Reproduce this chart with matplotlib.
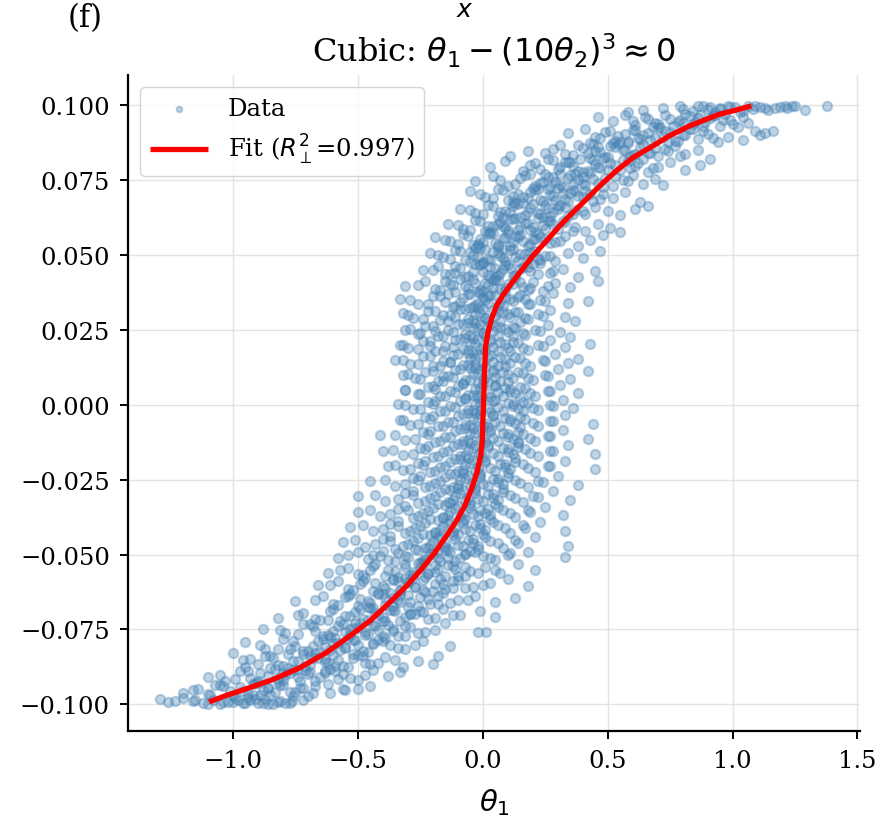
import matplotlib
matplotlib.use("Agg")
import matplotlib.pyplot as plt

# Scatter points, one row per theta2 band (top to bottom)
theta1_rows = [
    [0.58, 0.64, 0.72, 0.79, 0.84, 0.88, 0.91, 0.95, 0.98, 1.01, 1.03, 1.06, 1.08, 1.11, 1.14, 1.17, 1.21, 1.22, 1.24, 1.29, 1.38, 0.97, 0.93],
    [0.46, 0.52, 0.57, 0.61, 0.66, 0.69, 0.73, 0.76, 0.79, 0.81, 0.84, 0.86, 0.89, 0.92, 0.95, 0.99, 1.02, 1.06, 1.09, 1.13, 1.16, 0.71, 0.87, 0.78],
    [0.34, 0.41, 0.47, 0.51, 0.54, 0.58, 0.61, 0.64, 0.67, 0.70, 0.72, 0.75, 0.78, 0.81, 0.83, 0.86, 0.90, 0.94, 0.98, 1.04, 1.11, 0.62, 0.74, 0.88],
    [0.11, 0.18, 0.25, 0.31, 0.36, 0.40, 0.44, 0.47, 0.50, 0.53, 0.56, 0.58, 0.61, 0.64, 0.67, 0.70, 0.73, 0.77, 0.81, 0.86, 0.91, 0.52, 0.59, 0.45],
    [0.03, 0.09, 0.16, 0.21, 0.26, 0.30, 0.33, 0.36, 0.39, 0.42, 0.45, 0.48, 0.50, 0.53, 0.56, 0.59, 0.62, 0.66, 0.70, 0.75, 0.81, 0.87, 0.38, 0.44],
    [-0.03, 0.04, 0.10, 0.15, 0.19, 0.23, 0.26, 0.29, 0.32, 0.35, 0.38, 0.41, 0.43, 0.46, 0.49, 0.52, 0.56, 0.60, 0.64, 0.69, 0.72, 0.31, 0.27, 0.40],
    [-0.05, 0.01, 0.06, 0.10, 0.14, 0.18, 0.21, 0.24, 0.27, 0.30, 0.33, 0.35, 0.38, 0.41, 0.44, 0.48, 0.52, 0.57, 0.63, 0.66, 0.22, 0.29, 0.12, 0.36],
    [-0.09, -0.03, 0.02, 0.06, 0.09, 0.12, 0.15, 0.18, 0.20, 0.23, 0.26, 0.28, 0.31, 0.34, 0.37, 0.41, 0.45, 0.50, 0.55, 0.61, 0.16, 0.24, 0.07, 0.30],
    [-0.14, -0.08, -0.03, 0.01, 0.04, 0.07, 0.10, 0.13, 0.15, 0.18, 0.21, 0.24, 0.27, 0.30, 0.33, 0.37, 0.41, 0.46, 0.51, 0.55, 0.11, 0.19, 0.02, 0.26],
    [-0.19, -0.13, -0.08, -0.04, -0.01, 0.02, 0.05, 0.08, 0.11, 0.13, 0.16, 0.19, 0.22, 0.25, 0.29, 0.33, 0.38, 0.43, 0.48, 0.06, 0.14, -0.02, 0.21, 0.10],
    [-0.21, -0.16, -0.11, -0.07, -0.04, -0.01, 0.02, 0.04, 0.07, 0.09, 0.12, 0.15, 0.18, 0.21, 0.25, 0.29, 0.34, 0.40, 0.47, 0.00, 0.08, 0.13, -0.05, 0.23],
    [-0.24, -0.18, -0.13, -0.09, -0.06, -0.03, 0.00, 0.03, 0.05, 0.08, 0.10, 0.13, 0.16, 0.19, 0.23, 0.27, 0.32, 0.38, 0.45, -0.01, 0.06, 0.11, -0.11, 0.20],
    [-0.31, -0.23, -0.17, -0.13, -0.09, -0.06, -0.03, 0.00, 0.02, 0.05, 0.07, 0.10, 0.13, 0.16, 0.20, 0.24, 0.29, 0.35, 0.46, -0.02, 0.04, 0.09, -0.12, 0.18],
    [-0.33, -0.26, -0.20, -0.15, -0.11, -0.08, -0.05, -0.02, 0.01, 0.03, 0.06, 0.09, 0.12, 0.15, 0.19, 0.23, 0.28, 0.34, 0.42, -0.04, 0.02, 0.07, -0.14, 0.17],
    [-0.32, -0.28, -0.22, -0.17, -0.13, -0.09, -0.06, -0.03, 0.00, 0.02, 0.05, 0.08, 0.11, 0.14, 0.18, 0.22, 0.27, 0.33, 0.37, -0.05, 0.01, 0.06, -0.16, 0.15],
    [-0.29, -0.25, -0.23, -0.18, -0.14, -0.10, -0.07, -0.04, -0.01, 0.01, 0.04, 0.07, 0.10, 0.13, 0.17, 0.21, 0.26, 0.31, 0.35, -0.06, 0.00, 0.05, -0.19, 0.12],
    [-0.33, -0.30, -0.24, -0.19, -0.15, -0.11, -0.08, -0.05, -0.02, 0.01, 0.04, 0.07, 0.10, 0.14, 0.18, 0.22, 0.27, 0.33, 0.43, -0.07, -0.01, 0.03, -0.21, 0.11],
    [-0.35, -0.29, -0.24, -0.20, -0.16, -0.12, -0.08, -0.05, -0.02, 0.01, 0.04, 0.07, 0.11, 0.15, 0.19, 0.24, 0.29, 0.34, 0.38, -0.06, -0.03, 0.02, -0.13, 0.09],
    [-0.30, -0.27, -0.23, -0.18, -0.14, -0.11, -0.07, -0.04, -0.01, 0.02, 0.05, 0.08, 0.12, 0.16, 0.20, 0.25, 0.30, 0.35, 0.42, -0.05, 0.00, 0.04, -0.16, 0.10],
    [-0.31, -0.26, -0.22, -0.17, -0.13, -0.10, -0.06, -0.03, 0.00, 0.03, 0.06, 0.09, 0.13, 0.17, 0.21, 0.26, 0.31, 0.38, -0.08, -0.02, 0.05, 0.11, -0.19, 0.15],
    [-0.34, -0.28, -0.22, -0.17, -0.13, -0.09, -0.06, -0.03, 0.00, 0.03, 0.06, 0.10, 0.14, 0.18, 0.22, 0.27, 0.32, 0.36, -0.07, -0.01, 0.04, 0.12, -0.20, 0.16],
    [-0.33, -0.29, -0.23, -0.18, -0.14, -0.10, -0.07, -0.04, -0.01, 0.02, 0.05, 0.09, 0.13, 0.17, 0.22, 0.27, 0.33, 0.44, -0.06, 0.00, 0.04, 0.11, -0.21, 0.15],
    [-0.41, -0.31, -0.24, -0.19, -0.15, -0.11, -0.08, -0.05, -0.02, 0.01, 0.04, 0.08, 0.12, 0.16, 0.21, 0.26, 0.32, 0.42, -0.07, -0.01, 0.03, 0.10, -0.22, 0.14],
    [-0.40, -0.32, -0.25, -0.20, -0.16, -0.12, -0.09, -0.06, -0.03, 0.00, 0.04, 0.08, 0.12, 0.17, 0.22, 0.28, 0.34, 0.45, -0.08, -0.02, 0.02, 0.10, -0.23, 0.14],
    [-0.38, -0.32, -0.26, -0.21, -0.17, -0.13, -0.10, -0.07, -0.04, -0.01, 0.03, 0.07, 0.11, 0.16, 0.21, 0.27, 0.33, 0.45, -0.09, -0.03, 0.01, 0.09, -0.24, 0.13],
    [-0.45, -0.35, -0.28, -0.23, -0.19, -0.15, -0.12, -0.09, -0.06, -0.03, 0.00, 0.04, 0.08, 0.13, 0.18, 0.24, 0.30, 0.38, -0.11, -0.05, -0.01, 0.06, -0.26, 0.10],
    [-0.50, -0.39, -0.31, -0.26, -0.21, -0.17, -0.14, -0.11, -0.08, -0.05, -0.02, 0.02, 0.06, 0.11, 0.16, 0.22, 0.28, 0.35, -0.13, -0.07, -0.03, 0.04, -0.28, 0.08],
    [-0.50, -0.41, -0.34, -0.28, -0.24, -0.20, -0.16, -0.13, -0.10, -0.07, -0.04, -0.01, 0.03, 0.08, 0.13, 0.19, 0.25, 0.32, -0.15, -0.09, -0.05, 0.01, -0.30, 0.05],
    [-0.53, -0.44, -0.37, -0.31, -0.27, -0.23, -0.19, -0.16, -0.13, -0.10, -0.07, -0.03, 0.01, 0.06, 0.11, 0.17, 0.23, 0.33, -0.18, -0.12, -0.08, -0.01, -0.34, 0.03],
    [-0.56, -0.47, -0.40, -0.35, -0.30, -0.26, -0.23, -0.20, -0.17, -0.14, -0.10, -0.06, -0.02, 0.03, 0.08, 0.14, 0.21, 0.34, -0.21, -0.15, -0.11, -0.04, -0.37, 0.00],
    [-0.58, -0.50, -0.44, -0.38, -0.34, -0.30, -0.26, -0.23, -0.20, -0.17, -0.13, -0.09, -0.05, 0.00, 0.05, 0.11, 0.18, 0.33, -0.24, -0.18, -0.14, -0.07, -0.41, -0.02],
    [-0.62, -0.54, -0.48, -0.43, -0.38, -0.34, -0.31, -0.28, -0.25, -0.22, -0.18, -0.14, -0.10, -0.05, 0.01, 0.07, 0.14, 0.21, -0.29, -0.23, -0.19, -0.12, -0.45, -0.07],
    [-0.66, -0.58, -0.52, -0.47, -0.43, -0.39, -0.36, -0.33, -0.30, -0.27, -0.23, -0.19, -0.15, -0.10, -0.04, 0.03, 0.10, 0.18, -0.34, -0.28, -0.24, -0.17, -0.49, -0.12],
    [-0.75, -0.64, -0.58, -0.53, -0.49, -0.45, -0.42, -0.39, -0.36, -0.33, -0.29, -0.25, -0.21, -0.16, -0.10, -0.03, 0.05, 0.13, -0.40, -0.34, -0.30, -0.23, -0.55, -0.18],
    [-0.82, -0.72, -0.65, -0.60, -0.55, -0.51, -0.48, -0.45, -0.42, -0.39, -0.35, -0.31, -0.27, -0.22, -0.16, -0.09, -0.01, 0.05, -0.46, -0.40, -0.36, -0.29, -0.62, -0.24],
    [-0.88, -0.79, -0.72, -0.67, -0.62, -0.58, -0.55, -0.52, -0.49, -0.46, -0.42, -0.38, -0.34, -0.29, -0.23, -0.15, -0.02, 0.015, -0.53, -0.47, -0.43, -0.36, -0.69, -0.31],
    [-0.95, -0.87, -0.80, -0.75, -0.70, -0.66, -0.63, -0.60, -0.57, -0.54, -0.50, -0.46, -0.42, -0.37, -0.31, -0.24, -0.18, -0.13, -0.61, -0.55, -0.51, -0.44, -0.77, -0.39],
    [-1.00, -0.93, -0.87, -0.82, -0.78, -0.74, -0.71, -0.68, -0.65, -0.62, -0.58, -0.54, -0.50, -0.45, -0.39, -0.33, -0.26, -0.20, -0.69, -0.63, -0.59, -0.52, -0.84, -0.47],
    [-1.10, -1.03, -0.97, -0.93, -0.89, -0.85, -0.82, -0.79, -0.76, -0.73, -0.69, -0.65, -0.61, -0.56, -0.50, -0.44, -0.38, -0.32, -0.80, -0.74, -0.70, -0.63, -0.95, -0.58],
    [-1.20, -1.14, -1.09, -1.05, -1.01, -0.97, -0.94, -0.91, -0.88, -0.85, -0.81, -0.77, -0.73, -0.68, -0.62, -0.56, -0.50, -0.45, -0.92, -0.86, -0.82, -0.75, -1.07, -0.70],
    [-1.29, -1.26, -1.20, -1.16, -1.12, -1.08, -1.05, -1.02, -0.99, -0.96, -0.93, -0.90, -0.87, -0.84, -0.81, -0.77, -0.765, -0.72, -1.00, -0.94, -0.88],
]

theta2_rows = [
    [0.0978, 0.0985, 0.0990, 0.0996, 0.0981, 0.0999, 0.0993, 0.0987, 0.0998, 0.0994, 0.0976, 0.0999, 0.0989, 0.0995, 0.0983, 0.0992, 0.0997, 0.0991, 0.0996, 0.0985, 0.0998, 0.0972, 0.0979],
    [0.0962, 0.0948, 0.0969, 0.0934, 0.0955, 0.0941, 0.0966, 0.0929, 0.0952, 0.0970, 0.0937, 0.0958, 0.0944, 0.0963, 0.0931, 0.0949, 0.0927, 0.0940, 0.0915, 0.0908, 0.0914, 0.0926, 0.0968, 0.0945],
    [0.0908, 0.0921, 0.0889, 0.0913, 0.0897, 0.0879, 0.0917, 0.0902, 0.0885, 0.0923, 0.0893, 0.0910, 0.0881, 0.0899, 0.0919, 0.0887, 0.0905, 0.0876, 0.0894, 0.0884, 0.0899, 0.0890, 0.0877, 0.0915],
    [0.0829, 0.0848, 0.0839, 0.0868, 0.0833, 0.0857, 0.0872, 0.0845, 0.0827, 0.0861, 0.0851, 0.0874, 0.0836, 0.0866, 0.0842, 0.0829, 0.0855, 0.0864, 0.0838, 0.0850, 0.0821, 0.0873, 0.0831, 0.0847],
    [0.0793, 0.0814, 0.0781, 0.0806, 0.0822, 0.0788, 0.0810, 0.0797, 0.0819, 0.0779, 0.0803, 0.0824, 0.0785, 0.0801, 0.0817, 0.0790, 0.0808, 0.0776, 0.0795, 0.0812, 0.0784, 0.0799, 0.0780, 0.0816],
    [0.0747, 0.0763, 0.0731, 0.0756, 0.0770, 0.0739, 0.0759, 0.0744, 0.0727, 0.0766, 0.0752, 0.0735, 0.0773, 0.0741, 0.0758, 0.0729, 0.0749, 0.0767, 0.0738, 0.0755, 0.0733, 0.0772, 0.0726, 0.0761],
    [0.0712, 0.0694, 0.0719, 0.0683, 0.0705, 0.0691, 0.0716, 0.0679, 0.0701, 0.0723, 0.0688, 0.0708, 0.0697, 0.0714, 0.0681, 0.0703, 0.0690, 0.0710, 0.0676, 0.0664, 0.0721, 0.0685, 0.0698, 0.0717],
    [0.0654, 0.0639, 0.0668, 0.0631, 0.0648, 0.0662, 0.0627, 0.0645, 0.0671, 0.0636, 0.0658, 0.0642, 0.0666, 0.0629, 0.0651, 0.0637, 0.0660, 0.0646, 0.0633, 0.0652, 0.0674, 0.0626, 0.0643, 0.0665],
    [0.0603, 0.0588, 0.0617, 0.0579, 0.0596, 0.0611, 0.0584, 0.0622, 0.0593, 0.0607, 0.0576, 0.0600, 0.0615, 0.0586, 0.0609, 0.0595, 0.0581, 0.0605, 0.0590, 0.0578, 0.0619, 0.0582, 0.0598, 0.0613],
    [0.0561, 0.0546, 0.0569, 0.0533, 0.0552, 0.0574, 0.0540, 0.0557, 0.0529, 0.0565, 0.0548, 0.0536, 0.0571, 0.0555, 0.0543, 0.0562, 0.0531, 0.0550, 0.0567, 0.0527, 0.0559, 0.0538, 0.0553, 0.0572],
    [0.0508, 0.0492, 0.0517, 0.0484, 0.0501, 0.0523, 0.0488, 0.0511, 0.0496, 0.0480, 0.0519, 0.0503, 0.0486, 0.0514, 0.0498, 0.0479, 0.0506, 0.0490, 0.0512, 0.0477, 0.0521, 0.0494, 0.0509, 0.0483],
    [0.0449, 0.0463, 0.0437, 0.0456, 0.0430, 0.0470, 0.0442, 0.0459, 0.0427, 0.0452, 0.0467, 0.0434, 0.0461, 0.0445, 0.0473, 0.0439, 0.0454, 0.0428, 0.0446, 0.0465, 0.0432, 0.0458, 0.0441, 0.0469],
    [0.0396, 0.0413, 0.0384, 0.0404, 0.0421, 0.0389, 0.0408, 0.0379, 0.0399, 0.0416, 0.0386, 0.0402, 0.0423, 0.0392, 0.0410, 0.0381, 0.0406, 0.0394, 0.0412, 0.0376, 0.0418, 0.0391, 0.0400, 0.0383],
    [0.0354, 0.0337, 0.0362, 0.0344, 0.0329, 0.0357, 0.0371, 0.0340, 0.0350, 0.0366, 0.0332, 0.0359, 0.0345, 0.0368, 0.0335, 0.0351, 0.0373, 0.0339, 0.0348, 0.0327, 0.0363, 0.0342, 0.0370, 0.0353],
    [0.0306, 0.0290, 0.0314, 0.0283, 0.0300, 0.0319, 0.0287, 0.0304, 0.0321, 0.0279, 0.0297, 0.0311, 0.0292, 0.0308, 0.0285, 0.0302, 0.0316, 0.0294, 0.0281, 0.0323, 0.0289, 0.0312, 0.0298, 0.0276],
    [0.0253, 0.0239, 0.0264, 0.0231, 0.0249, 0.0268, 0.0236, 0.0256, 0.0271, 0.0228, 0.0245, 0.0260, 0.0242, 0.0257, 0.0234, 0.0251, 0.0266, 0.0244, 0.0227, 0.0273, 0.0238, 0.0262, 0.0247, 0.0230],
    [0.0201, 0.0188, 0.0213, 0.0180, 0.0196, 0.0217, 0.0185, 0.0205, 0.0221, 0.0178, 0.0193, 0.0209, 0.0190, 0.0207, 0.0183, 0.0199, 0.0215, 0.0192, 0.0204, 0.0223, 0.0187, 0.0211, 0.0195, 0.0179],
    [0.0151, 0.0137, 0.0162, 0.0129, 0.0146, 0.0166, 0.0133, 0.0155, 0.0171, 0.0127, 0.0143, 0.0159, 0.0140, 0.0157, 0.0131, 0.0149, 0.0168, 0.0139, 0.0153, 0.0173, 0.0136, 0.0161, 0.0144, 0.0128],
    [0.0102, 0.0088, 0.0111, 0.0079, 0.0096, 0.0115, 0.0083, 0.0104, 0.0120, 0.0077, 0.0093, 0.0108, 0.0090, 0.0106, 0.0081, 0.0099, 0.0118, 0.0086, 0.0113, 0.0123, 0.0085, 0.0109, 0.0095, 0.0076],
    [0.0049, 0.0035, 0.0060, 0.0028, 0.0045, 0.0064, 0.0032, 0.0053, 0.0070, 0.0026, 0.0041, 0.0057, 0.0038, 0.0055, 0.0030, 0.0047, 0.0066, 0.0039, 0.0072, 0.0034, 0.0061, 0.0043, 0.0051, 0.0027],
    [0.0002, -0.0014, 0.0009, -0.0021, -0.0005, 0.0014, -0.0018, 0.0004, 0.0020, -0.0024, -0.0008, 0.0007, -0.0011, 0.0005, -0.0019, -0.0001, 0.0017, -0.0012, 0.0023, -0.0016, 0.0011, -0.0003, 0.0001, -0.0022],
    [-0.0051, -0.0066, -0.0041, -0.0072, -0.0056, -0.0037, -0.0069, -0.0048, -0.0031, -0.0074, -0.0059, -0.0044, -0.0062, -0.0046, -0.0070, -0.0053, -0.0034, -0.0063, -0.0028, -0.0067, -0.0039, -0.0055, -0.0047, -0.0073],
    [-0.0102, -0.0117, -0.0092, -0.0123, -0.0107, -0.0088, -0.0120, -0.0099, -0.0082, -0.0125, -0.0110, -0.0095, -0.0113, -0.0097, -0.0121, -0.0104, -0.0085, -0.0114, -0.0079, -0.0118, -0.0090, -0.0106, -0.0098, -0.0124],
    [-0.0153, -0.0168, -0.0143, -0.0174, -0.0158, -0.0139, -0.0171, -0.0150, -0.0133, -0.0176, -0.0161, -0.0146, -0.0164, -0.0148, -0.0172, -0.0155, -0.0136, -0.0165, -0.0130, -0.0169, -0.0141, -0.0157, -0.0149, -0.0127],
    [-0.0204, -0.0219, -0.0194, -0.0225, -0.0209, -0.0190, -0.0222, -0.0201, -0.0184, -0.0227, -0.0212, -0.0197, -0.0215, -0.0199, -0.0223, -0.0206, -0.0187, -0.0216, -0.0181, -0.0220, -0.0192, -0.0208, -0.0200, -0.0178],
    [-0.0255, -0.0270, -0.0245, -0.0276, -0.0260, -0.0241, -0.0273, -0.0252, -0.0235, -0.0278, -0.0263, -0.0248, -0.0266, -0.0250, -0.0274, -0.0257, -0.0238, -0.0267, -0.0232, -0.0271, -0.0243, -0.0259, -0.0251, -0.0229],
    [-0.0306, -0.0321, -0.0296, -0.0327, -0.0311, -0.0292, -0.0324, -0.0303, -0.0286, -0.0329, -0.0314, -0.0299, -0.0317, -0.0301, -0.0325, -0.0308, -0.0289, -0.0318, -0.0283, -0.0322, -0.0294, -0.0310, -0.0302, -0.0280],
    [-0.0357, -0.0372, -0.0347, -0.0378, -0.0362, -0.0343, -0.0375, -0.0354, -0.0337, -0.0380, -0.0365, -0.0350, -0.0368, -0.0352, -0.0376, -0.0359, -0.0340, -0.0369, -0.0334, -0.0373, -0.0345, -0.0361, -0.0353, -0.0331],
    [-0.0408, -0.0423, -0.0398, -0.0429, -0.0413, -0.0394, -0.0426, -0.0405, -0.0388, -0.0431, -0.0416, -0.0401, -0.0419, -0.0403, -0.0427, -0.0410, -0.0391, -0.0420, -0.0385, -0.0424, -0.0396, -0.0412, -0.0404, -0.0382],
    [-0.0459, -0.0474, -0.0449, -0.0480, -0.0464, -0.0445, -0.0477, -0.0456, -0.0439, -0.0482, -0.0467, -0.0452, -0.0470, -0.0454, -0.0478, -0.0461, -0.0442, -0.0471, -0.0436, -0.0475, -0.0447, -0.0463, -0.0455, -0.0433],
    [-0.0510, -0.0491, -0.0502, -0.0519, -0.0496, -0.0508, -0.0484, -0.0515, -0.0499, -0.0522, -0.0493, -0.0511, -0.0487, -0.0505, -0.0517, -0.0494, -0.0493, -0.0509, -0.0524, -0.0488, -0.0513, -0.0497, -0.0506, -0.0480],
    [-0.0561, -0.0546, -0.0569, -0.0533, -0.0552, -0.0574, -0.0540, -0.0557, -0.0529, -0.0565, -0.0548, -0.0536, -0.0571, -0.0555, -0.0543, -0.0562, -0.0531, -0.0550, -0.0567, -0.0527, -0.0559, -0.0538, -0.0553, -0.0572],
    [-0.0603, -0.0588, -0.0617, -0.0579, -0.0596, -0.0611, -0.0584, -0.0622, -0.0593, -0.0607, -0.0576, -0.0600, -0.0615, -0.0586, -0.0609, -0.0595, -0.0581, -0.0605, -0.0590, -0.0578, -0.0619, -0.0582, -0.0598, -0.0613],
    [-0.0654, -0.0639, -0.0668, -0.0631, -0.0648, -0.0662, -0.0627, -0.0645, -0.0671, -0.0636, -0.0658, -0.0642, -0.0666, -0.0629, -0.0651, -0.0637, -0.0660, -0.0646, -0.0633, -0.0652, -0.0674, -0.0626, -0.0643, -0.0665],
    [-0.0712, -0.0694, -0.0719, -0.0683, -0.0705, -0.0691, -0.0716, -0.0679, -0.0701, -0.0723, -0.0688, -0.0708, -0.0697, -0.0714, -0.0681, -0.0703, -0.0690, -0.0710, -0.0676, -0.0721, -0.0685, -0.0698, -0.0717, -0.0692],
    [-0.0747, -0.0763, -0.0731, -0.0756, -0.0770, -0.0739, -0.0759, -0.0744, -0.0727, -0.0766, -0.0752, -0.0735, -0.0773, -0.0741, -0.0758, -0.0729, -0.0760, -0.0760, -0.0749, -0.0767, -0.0738, -0.0755, -0.0733, -0.0772],
    [-0.0793, -0.0814, -0.0781, -0.0806, -0.0822, -0.0788, -0.0810, -0.0797, -0.0819, -0.0779, -0.0803, -0.0824, -0.0785, -0.0801, -0.0817, -0.0790, -0.0839, -0.0805, -0.0776, -0.0812, -0.0784, -0.0799, -0.0816, -0.0780],
    [-0.0829, -0.0848, -0.0839, -0.0868, -0.0833, -0.0857, -0.0872, -0.0845, -0.0827, -0.0861, -0.0851, -0.0874, -0.0836, -0.0866, -0.0842, -0.0893, -0.0855, -0.0864, -0.0838, -0.0850, -0.0873, -0.0831, -0.0847, -0.0862],
    [-0.0908, -0.0921, -0.0889, -0.0913, -0.0897, -0.0879, -0.0917, -0.0902, -0.0885, -0.0923, -0.0893, -0.0910, -0.0881, -0.0899, -0.0919, -0.0887, -0.0905, -0.0876, -0.0894, -0.0884, -0.0899, -0.0890, -0.0877, -0.0915],
    [-0.0962, -0.0948, -0.0969, -0.0934, -0.0955, -0.0941, -0.0966, -0.0929, -0.0952, -0.0970, -0.0937, -0.0958, -0.0944, -0.0963, -0.0931, -0.0949, -0.0950, -0.0940, -0.0968, -0.0945, -0.0927, -0.0960, -0.0935, -0.0972],
    [-0.0983, -0.0992, -0.0978, -0.0988, -0.0996, -0.0985, -0.0999, -0.0991, -0.0979, -0.0997, -0.0987, -0.0994, -0.0982, -0.0998, -0.0989, -0.0995, -0.0990, -0.0986, -0.0993, -0.0980, -0.0996],
]

# Second pass over the dense core of the cloud, same bands
theta1_core = [
    [0.86, 0.90, 0.99, 1.04, 1.09, 1.13, 1.19, 1.25, 0.80, 0.95],
    [0.60, 0.65, 0.70, 0.75, 0.80, 0.83, 0.88, 0.91, 0.96, 1.00, 1.04, 0.68, 0.85, 0.93],
    [0.45, 0.49, 0.53, 0.57, 0.60, 0.63, 0.66, 0.69, 0.73, 0.77, 0.80, 0.84, 0.92, 0.55],
    [0.28, 0.33, 0.38, 0.42, 0.46, 0.49, 0.54, 0.57, 0.60, 0.63, 0.66, 0.69, 0.74, 0.79, 0.43, 0.51],
    [0.19, 0.23, 0.28, 0.31, 0.35, 0.40, 0.43, 0.47, 0.51, 0.55, 0.58, 0.61, 0.64, 0.68, 0.34, 0.46],
    [0.07, 0.13, 0.17, 0.21, 0.24, 0.28, 0.31, 0.34, 0.37, 0.40, 0.44, 0.48, 0.53, 0.58, 0.25, 0.36],
    [-0.01, 0.04, 0.08, 0.12, 0.16, 0.19, 0.23, 0.26, 0.28, 0.32, 0.34, 0.37, 0.40, 0.43, 0.47, 0.20],
    [-0.05, 0.00, 0.04, 0.08, 0.11, 0.14, 0.17, 0.19, 0.22, 0.25, 0.27, 0.30, 0.33, 0.36, 0.40, 0.13],
    [-0.10, -0.05, -0.01, 0.03, 0.06, 0.09, 0.12, 0.14, 0.17, 0.20, 0.22, 0.25, 0.28, 0.32, 0.36, 0.08],
    [-0.15, -0.10, -0.06, -0.02, 0.00, 0.03, 0.06, 0.09, 0.12, 0.15, 0.18, 0.20, 0.23, 0.27, 0.31, 0.04],
    [-0.18, -0.13, -0.09, -0.05, -0.02, 0.01, 0.03, 0.06, 0.08, 0.11, 0.14, 0.17, 0.19, 0.22, 0.27, -0.03],
    [-0.20, -0.15, -0.11, -0.07, -0.04, -0.01, 0.02, 0.05, 0.07, 0.09, 0.12, 0.15, 0.18, 0.22, 0.28, 0.00],
    [-0.26, -0.19, -0.15, -0.11, -0.07, -0.04, -0.01, 0.01, 0.04, 0.06, 0.09, 0.12, 0.15, 0.19, 0.26, 0.03],
    [-0.29, -0.22, -0.17, -0.12, -0.09, -0.06, -0.03, 0.00, 0.02, 0.05, 0.08, 0.11, 0.14, 0.18, 0.25, -0.01],
    [-0.30, -0.24, -0.19, -0.14, -0.11, -0.07, -0.04, -0.01, 0.01, 0.04, 0.07, 0.10, 0.13, 0.17, 0.24, -0.02],
    [-0.31, -0.26, -0.20, -0.16, -0.12, -0.08, -0.05, -0.02, 0.00, 0.03, 0.06, 0.09, 0.12, 0.16, 0.23, -0.03],
    [-0.32, -0.26, -0.21, -0.16, -0.12, -0.09, -0.06, -0.03, 0.00, 0.03, 0.06, 0.09, 0.12, 0.16, 0.24, -0.04],
    [-0.32, -0.26, -0.21, -0.17, -0.13, -0.10, -0.06, -0.03, 0.00, 0.03, 0.06, 0.09, 0.13, 0.17, 0.25, -0.04],
    [-0.32, -0.25, -0.20, -0.16, -0.12, -0.09, -0.05, -0.02, 0.01, 0.04, 0.07, 0.10, 0.14, 0.18, 0.26, -0.03],
    [-0.31, -0.25, -0.20, -0.15, -0.11, -0.08, -0.04, -0.01, 0.02, 0.05, 0.08, 0.11, 0.15, 0.19, 0.27, -0.02],
    [-0.31, -0.25, -0.19, -0.15, -0.11, -0.07, -0.04, -0.01, 0.02, 0.05, 0.08, 0.12, 0.16, 0.20, 0.28, -0.02],
    [-0.32, -0.26, -0.20, -0.16, -0.12, -0.08, -0.05, -0.02, 0.01, 0.04, 0.07, 0.11, 0.15, 0.20, 0.28, -0.03],
    [-0.35, -0.27, -0.21, -0.17, -0.13, -0.09, -0.06, -0.03, 0.00, 0.03, 0.06, 0.10, 0.14, 0.19, 0.27, -0.04],
    [-0.36, -0.28, -0.22, -0.18, -0.14, -0.10, -0.07, -0.04, -0.01, 0.02, 0.06, 0.10, 0.14, 0.19, 0.27, -0.05],
    [-0.35, -0.29, -0.23, -0.19, -0.15, -0.11, -0.08, -0.05, -0.02, 0.01, 0.05, 0.09, 0.13, 0.18, 0.26, -0.06],
    [-0.39, -0.31, -0.25, -0.21, -0.17, -0.13, -0.10, -0.07, -0.04, -0.01, 0.02, 0.06, 0.10, 0.15, 0.22, -0.08],
    [-0.43, -0.34, -0.28, -0.23, -0.19, -0.15, -0.12, -0.09, -0.06, -0.03, 0.00, 0.04, 0.08, 0.13, 0.20, -0.10],
    [-0.45, -0.37, -0.31, -0.26, -0.22, -0.18, -0.14, -0.11, -0.08, -0.05, -0.02, 0.02, 0.06, 0.11, 0.18, -0.13],
    [-0.48, -0.40, -0.34, -0.29, -0.25, -0.21, -0.17, -0.14, -0.11, -0.08, -0.05, -0.01, 0.04, 0.09, 0.16, -0.16],
    [-0.51, -0.43, -0.37, -0.32, -0.28, -0.24, -0.21, -0.18, -0.15, -0.12, -0.08, -0.04, 0.01, 0.06, 0.13, -0.19],
    [-0.54, -0.46, -0.40, -0.35, -0.31, -0.27, -0.24, -0.21, -0.18, -0.15, -0.11, -0.07, -0.03, 0.03, 0.10, -0.22],
    [-0.57, -0.50, -0.44, -0.39, -0.35, -0.31, -0.28, -0.25, -0.22, -0.19, -0.15, -0.11, -0.07, -0.02, 0.05, -0.26],
    [-0.61, -0.54, -0.48, -0.44, -0.40, -0.36, -0.33, -0.30, -0.27, -0.24, -0.20, -0.16, -0.12, -0.07, 0.00, -0.31],
    [-0.67, -0.60, -0.54, -0.50, -0.46, -0.42, -0.39, -0.36, -0.33, -0.30, -0.26, -0.22, -0.18, -0.13, -0.06, -0.37],
    [-0.74, -0.67, -0.61, -0.57, -0.53, -0.49, -0.46, -0.43, -0.40, -0.37, -0.33, -0.29, -0.25, -0.19, -0.12, -0.44],
    [-0.81, -0.74, -0.68, -0.64, -0.60, -0.56, -0.53, -0.50, -0.47, -0.44, -0.40, -0.36, -0.31, -0.26, -0.19, -0.51],
    [-0.89, -0.82, -0.76, -0.72, -0.68, -0.64, -0.61, -0.58, -0.55, -0.52, -0.48, -0.44, -0.40, -0.34, -0.27, -0.59],
    [-0.96, -0.90, -0.85, -0.80, -0.76, -0.72, -0.69, -0.66, -0.63, -0.60, -0.56, -0.52, -0.48, -0.42, -0.35, -0.67],
    [-1.05, -0.99, -0.94, -0.90, -0.86, -0.83, -0.80, -0.77, -0.74, -0.71, -0.67, -0.63, -0.59, -0.53, -0.47, -0.78],
    [-1.16, -1.10, -1.04, -1.00, -0.96, -0.92, -0.89, -0.86, -0.83, -0.80, -0.76, -0.72, -0.67, -0.61, -0.55, -0.90],
    [-1.23, -1.15, -1.10, -1.04, -0.98, -0.95, -0.91, -0.86, -0.82, -0.79],
]

theta2_core = [
    [0.0997, 0.0988, 0.0995, 0.0982, 0.0999, 0.0990, 0.0994, 0.0998, 0.0986, 0.0992],
    [0.0947, 0.0959, 0.0936, 0.0953, 0.0942, 0.0965, 0.0931, 0.0957, 0.0949, 0.0938, 0.0961, 0.0928, 0.0944, 0.0967],
    [0.0895, 0.0911, 0.0882, 0.0903, 0.0918, 0.0887, 0.0906, 0.0892, 0.0914, 0.0880, 0.0900, 0.0921, 0.0889, 0.0878],
    [0.0853, 0.0836, 0.0867, 0.0842, 0.0859, 0.0828, 0.0870, 0.0849, 0.0834, 0.0862, 0.0840, 0.0857, 0.0846, 0.0832, 0.0873, 0.0865],
    [0.0800, 0.0787, 0.0817, 0.0794, 0.0809, 0.0778, 0.0823, 0.0791, 0.0806, 0.0783, 0.0813, 0.0798, 0.0820, 0.0789, 0.0811, 0.0795],
    [0.0752, 0.0738, 0.0766, 0.0729, 0.0745, 0.0761, 0.0734, 0.0757, 0.0769, 0.0741, 0.0753, 0.0728, 0.0764, 0.0746, 0.0772, 0.0736],
    [0.0702, 0.0689, 0.0716, 0.0678, 0.0695, 0.0711, 0.0684, 0.0720, 0.0698, 0.0707, 0.0680, 0.0713, 0.0692, 0.0705, 0.0686, 0.0722],
    [0.0650, 0.0638, 0.0663, 0.0627, 0.0645, 0.0670, 0.0633, 0.0656, 0.0641, 0.0667, 0.0630, 0.0653, 0.0661, 0.0636, 0.0648, 0.0673],
    [0.0599, 0.0585, 0.0612, 0.0577, 0.0605, 0.0591, 0.0619, 0.0582, 0.0608, 0.0594, 0.0623, 0.0587, 0.0602, 0.0615, 0.0580, 0.0597],
    [0.0551, 0.0537, 0.0563, 0.0529, 0.0545, 0.0570, 0.0533, 0.0558, 0.0542, 0.0566, 0.0530, 0.0554, 0.0561, 0.0539, 0.0548, 0.0573],
    [0.0499, 0.0485, 0.0513, 0.0478, 0.0494, 0.0520, 0.0482, 0.0507, 0.0491, 0.0516, 0.0479, 0.0503, 0.0510, 0.0488, 0.0497, 0.0522],
    [0.0451, 0.0436, 0.0463, 0.0428, 0.0444, 0.0469, 0.0432, 0.0457, 0.0441, 0.0466, 0.0429, 0.0453, 0.0460, 0.0438, 0.0447, 0.0472],
    [0.0401, 0.0387, 0.0413, 0.0378, 0.0395, 0.0420, 0.0383, 0.0407, 0.0391, 0.0417, 0.0380, 0.0404, 0.0411, 0.0389, 0.0398, 0.0423],
    [0.0349, 0.0336, 0.0362, 0.0328, 0.0344, 0.0369, 0.0332, 0.0356, 0.0340, 0.0365, 0.0329, 0.0353, 0.0360, 0.0338, 0.0347, 0.0372],
    [0.0299, 0.0286, 0.0312, 0.0278, 0.0294, 0.0319, 0.0282, 0.0306, 0.0290, 0.0315, 0.0279, 0.0303, 0.0310, 0.0288, 0.0297, 0.0322],
    [0.0249, 0.0236, 0.0262, 0.0228, 0.0244, 0.0269, 0.0232, 0.0256, 0.0240, 0.0265, 0.0229, 0.0253, 0.0260, 0.0238, 0.0247, 0.0272],
    [0.0199, 0.0186, 0.0212, 0.0178, 0.0194, 0.0219, 0.0182, 0.0206, 0.0190, 0.0215, 0.0179, 0.0203, 0.0210, 0.0188, 0.0197, 0.0222],
    [0.0149, 0.0136, 0.0162, 0.0128, 0.0144, 0.0169, 0.0132, 0.0156, 0.0140, 0.0165, 0.0129, 0.0153, 0.0160, 0.0138, 0.0147, 0.0172],
    [0.0099, 0.0086, 0.0112, 0.0078, 0.0094, 0.0119, 0.0082, 0.0106, 0.0090, 0.0115, 0.0079, 0.0103, 0.0110, 0.0088, 0.0097, 0.0122],
    [0.0049, 0.0036, 0.0062, 0.0028, 0.0044, 0.0069, 0.0032, 0.0056, 0.0040, 0.0065, 0.0029, 0.0053, 0.0060, 0.0038, 0.0047, 0.0072],
    [-0.0001, -0.0014, 0.0012, -0.0022, -0.0006, 0.0019, -0.0018, 0.0006, -0.0010, 0.0015, -0.0021, 0.0003, 0.0010, -0.0012, -0.0003, 0.0022],
    [-0.0051, -0.0064, -0.0038, -0.0072, -0.0056, -0.0031, -0.0068, -0.0044, -0.0060, -0.0035, -0.0071, -0.0047, -0.0040, -0.0062, -0.0053, -0.0028],
    [-0.0101, -0.0114, -0.0088, -0.0122, -0.0106, -0.0081, -0.0118, -0.0094, -0.0110, -0.0085, -0.0121, -0.0097, -0.0090, -0.0112, -0.0103, -0.0078],
    [-0.0151, -0.0164, -0.0138, -0.0172, -0.0156, -0.0131, -0.0168, -0.0144, -0.0160, -0.0135, -0.0171, -0.0147, -0.0140, -0.0162, -0.0153, -0.0128],
    [-0.0201, -0.0214, -0.0188, -0.0222, -0.0206, -0.0181, -0.0218, -0.0194, -0.0210, -0.0185, -0.0221, -0.0197, -0.0190, -0.0212, -0.0203, -0.0178],
    [-0.0251, -0.0264, -0.0238, -0.0272, -0.0256, -0.0231, -0.0268, -0.0244, -0.0260, -0.0235, -0.0271, -0.0247, -0.0240, -0.0262, -0.0253, -0.0228],
    [-0.0301, -0.0314, -0.0288, -0.0322, -0.0306, -0.0281, -0.0318, -0.0294, -0.0310, -0.0285, -0.0321, -0.0297, -0.0290, -0.0312, -0.0303, -0.0278],
    [-0.0351, -0.0364, -0.0338, -0.0372, -0.0356, -0.0331, -0.0368, -0.0344, -0.0360, -0.0335, -0.0371, -0.0347, -0.0340, -0.0362, -0.0353, -0.0328],
    [-0.0401, -0.0414, -0.0388, -0.0422, -0.0406, -0.0381, -0.0418, -0.0394, -0.0410, -0.0385, -0.0421, -0.0397, -0.0390, -0.0412, -0.0403, -0.0378],
    [-0.0451, -0.0464, -0.0438, -0.0472, -0.0456, -0.0431, -0.0468, -0.0444, -0.0460, -0.0435, -0.0471, -0.0447, -0.0440, -0.0462, -0.0453, -0.0428],
    [-0.0501, -0.0514, -0.0488, -0.0522, -0.0506, -0.0481, -0.0518, -0.0494, -0.0510, -0.0485, -0.0521, -0.0497, -0.0490, -0.0512, -0.0503, -0.0478],
    [-0.0551, -0.0564, -0.0538, -0.0572, -0.0556, -0.0531, -0.0568, -0.0544, -0.0560, -0.0535, -0.0571, -0.0547, -0.0540, -0.0562, -0.0553, -0.0528],
    [-0.0601, -0.0614, -0.0588, -0.0622, -0.0606, -0.0581, -0.0618, -0.0594, -0.0610, -0.0585, -0.0621, -0.0597, -0.0590, -0.0612, -0.0603, -0.0578],
    [-0.0651, -0.0664, -0.0638, -0.0672, -0.0656, -0.0631, -0.0668, -0.0644, -0.0660, -0.0635, -0.0671, -0.0647, -0.0640, -0.0662, -0.0653, -0.0628],
    [-0.0701, -0.0714, -0.0688, -0.0722, -0.0706, -0.0681, -0.0718, -0.0694, -0.0710, -0.0685, -0.0721, -0.0697, -0.0690, -0.0712, -0.0703, -0.0678],
    [-0.0751, -0.0764, -0.0738, -0.0772, -0.0756, -0.0731, -0.0768, -0.0744, -0.0760, -0.0735, -0.0771, -0.0747, -0.0740, -0.0762, -0.0753, -0.0728],
    [-0.0801, -0.0814, -0.0788, -0.0822, -0.0806, -0.0781, -0.0818, -0.0794, -0.0810, -0.0785, -0.0821, -0.0797, -0.0790, -0.0812, -0.0803, -0.0778],
    [-0.0851, -0.0864, -0.0838, -0.0872, -0.0856, -0.0831, -0.0868, -0.0844, -0.0860, -0.0835, -0.0871, -0.0847, -0.0840, -0.0862, -0.0853, -0.0828],
    [-0.0901, -0.0914, -0.0888, -0.0922, -0.0906, -0.0881, -0.0918, -0.0894, -0.0910, -0.0885, -0.0921, -0.0897, -0.0890, -0.0912, -0.0903, -0.0878],
    [-0.0951, -0.0964, -0.0938, -0.0972, -0.0956, -0.0931, -0.0968, -0.0944, -0.0960, -0.0935, -0.0971, -0.0947, -0.0940, -0.0962, -0.0953, -0.0928],
    [-0.0990, -0.0985, -0.0998, -0.0993, -0.0987, -0.0996, -0.0982, -0.0999, -0.0991, -0.0994],
]

# Red fitted curve, sampled along the line in the reference
fit_theta1 = [-1.095, -1.025, -0.945, -0.839, -0.732, -0.625, -0.532, -0.452, -0.372, -0.305,
              -0.245, -0.192, -0.145, -0.105, -0.072, -0.045, -0.023, -0.008, -0.001, 0.001,
              0.004, 0.007, 0.012, 0.021, 0.035, 0.055, 0.079, 0.108, 0.148, 0.201, 0.255,
              0.308, 0.361, 0.415, 0.475, 0.535, 0.601, 0.681, 0.748, 0.828, 0.895, 0.948,
              1.015, 1.075]
fit_theta2 = [-0.0992, -0.0970, -0.0948, -0.0917, -0.0878, -0.0827, -0.0772, -0.0722, -0.0660, -0.0605,
              -0.0549, -0.0494, -0.0438, -0.0388, -0.0338, -0.0282, -0.0226, -0.0171, -0.0115, -0.0048,
              0.0018, 0.0100, 0.0196, 0.0241, 0.0285, 0.0330, 0.0363, 0.0397, 0.0441, 0.0497, 0.0547,
              0.0597, 0.0642, 0.0686, 0.0736, 0.0781, 0.0825, 0.0864, 0.0898, 0.0931, 0.0953, 0.0970,
              0.0984, 0.0998]

R2_PERP = 0.997

theta1 = []
theta2 = []
for i, (xr, yr) in enumerate(zip(theta1_rows + theta1_core, theta2_rows + theta2_core)):
    assert len(xr) == len(yr), f"row {i}: {len(xr)} vs {len(yr)}"
    theta1.extend(xr)
    theta2.extend(yr)

plt.rcParams['font.family'] = ['DejaVu Serif']
plt.rcParams['mathtext.fontset'] = 'dejavusans'

fig = plt.figure(figsize=(8.82, 8.2), dpi=100)
ax = fig.add_axes([0.145, 0.107, 0.83, 0.80])

ax.grid(True, color='#dddddd', linewidth=1.0, alpha=0.8)
ax.set_axisbelow(True)

ax.scatter(theta1, theta2, s=46, color='steelblue', alpha=0.35, linewidths=1.5, label='Data')
ax.plot(fit_theta1, fit_theta2, color='red', linewidth=3.8, solid_capstyle='butt',
        label=f'Fit ($R^2_\\perp$={R2_PERP:.3f})')

ax.set_xlim(-1.42, 1.51)
ax.set_ylim(-0.109, 0.110)
ax.set_xticks([-1.0, -0.5, 0.0, 0.5, 1.0, 1.5])
ax.set_yticks([-0.100, -0.075, -0.050, -0.025, 0.000, 0.025, 0.050, 0.075, 0.100])

for side in ['top', 'right']:
    ax.spines[side].set_visible(False)
for side in ['left', 'bottom']:
    ax.spines[side].set_linewidth(1.6)
ax.tick_params(labelsize=17.5, length=6, width=1.4, pad=7)

ax.set_xlabel(r'$\theta_1$', fontsize=21, labelpad=10)
ax.set_title(r'Cubic: $\theta_1 - (10\theta_2)^3 \approx 0$', fontsize=23, pad=10)

ax.legend(loc='upper left', fontsize=17.5, framealpha=0.8, edgecolor='#cccccc',
          handlelength=2.4, handletextpad=0.8, borderaxespad=0.5, markerscale=0.6)

fig.text(0.077, 0.978, '(f)', fontsize=22, ha='left', va='center')
fig.text(0.527, 0.987, '$x$', fontsize=18, ha='center', va='center')

fig.savefig('out.png', dpi=100)
